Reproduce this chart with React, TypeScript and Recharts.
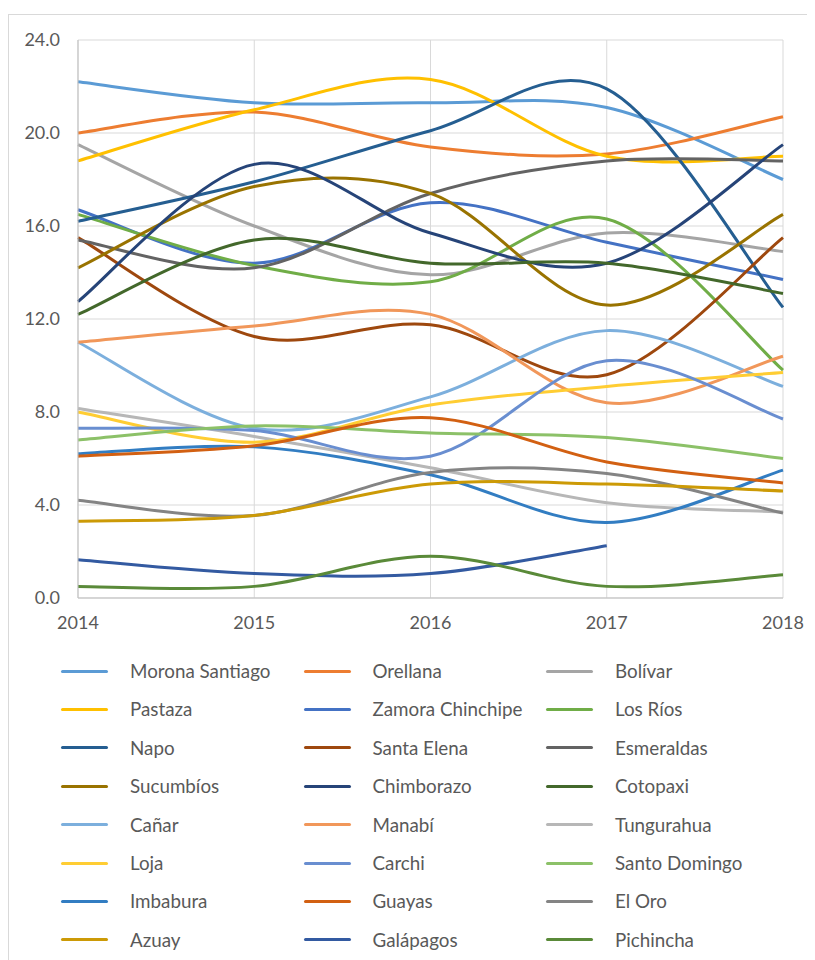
import { CartesianGrid, Line, LineChart, XAxis, YAxis } from "recharts"

// años y series (tasa por provincia)
const years = ["2014", "2015", "2016", "2017", "2018"]
const yTicks = [0, 4, 8, 12, 16, 20, 24]

const moronaSantiago = [22.2, 21.3, 21.3, 21.1, 18.0]
const orellana = [20.0, 20.9, 19.4, 19.1, 20.7]
const bolivar = [19.5, 16.0, 13.9, 15.7, 14.9]
const pastaza = [18.8, 21.0, 22.3, 19.0, 19.0]
const zamoraChinchipe = [16.7, 14.4, 17.0, 15.3, 13.7]
const losRios = [16.5, 14.3, 13.6, 16.3, 9.8]
const napo = [16.2, 17.9, 20.1, 21.9, 12.5]
const santaElena = [15.5, 11.25, 11.75, 9.6, 15.5]
const esmeraldas = [15.4, 14.2, 17.4, 18.8, 18.8]
const sucumbios = [14.2, 17.7, 17.4, 12.6, 16.5]
const chimborazo = [12.75, 18.65, 15.7, 14.4, 19.5]
const cotopaxi = [12.2, 15.4, 14.4, 14.4, 13.1]
const canar = [11.0, 7.3, 8.65, 11.5, 9.1]
const manabi = [11.0, 11.7, 12.2, 8.4, 10.4]
const tungurahua = [8.15, 6.95, 5.6, 4.1, 3.7]
const loja = [8.0, 6.7, 8.3, 9.1, 9.7]
const carchi = [7.3, 7.2, 6.1, 10.2, 7.7]
const santoDomingo = [6.8, 7.4, 7.1, 6.9, 6.0]
const imbabura = [6.2, 6.5, 5.3, 3.25, 5.5]
const guayas = [6.1, 6.55, 7.75, 5.85, 4.95]
const elOro = [4.2, 3.55, 5.4, 5.35, 3.65]
const azuay = [3.3, 3.55, 4.9, 4.9, 4.6]
const galapagos = [1.65, 1.05, 1.05, 2.25, null]
const pichincha = [0.5, 0.5, 1.8, 0.5, 1.0]

const series = [
  { key: "Morona Santiago", values: moronaSantiago, color: "#5B9BD5" },
  { key: "Orellana", values: orellana, color: "#ED7D31" },
  { key: "Bolívar", values: bolivar, color: "#A5A5A5" },
  { key: "Pastaza", values: pastaza, color: "#FFC000" },
  { key: "Zamora Chinchipe", values: zamoraChinchipe, color: "#4472C4" },
  { key: "Los Ríos", values: losRios, color: "#70AD47" },
  { key: "Napo", values: napo, color: "#255E91" },
  { key: "Santa Elena", values: santaElena, color: "#9E480E" },
  { key: "Esmeraldas", values: esmeraldas, color: "#636363" },
  { key: "Sucumbíos", values: sucumbios, color: "#997300" },
  { key: "Chimborazo", values: chimborazo, color: "#264478" },
  { key: "Cotopaxi", values: cotopaxi, color: "#43682B" },
  { key: "Cañar", values: canar, color: "#7CAFDD" },
  { key: "Manabí", values: manabi, color: "#F1975A" },
  { key: "Tungurahua", values: tungurahua, color: "#B7B7B7" },
  { key: "Loja", values: loja, color: "#FFCD33" },
  { key: "Carchi", values: carchi, color: "#698ED0" },
  { key: "Santo Domingo", values: santoDomingo, color: "#8CC168" },
  { key: "Imbabura", values: imbabura, color: "#327DC2" },
  { key: "Guayas", values: guayas, color: "#D26012" },
  { key: "El Oro", values: elOro, color: "#848484" },
  { key: "Azuay", values: azuay, color: "#CC9A06" },
  { key: "Galápagos", values: galapagos, color: "#335AA1" },
  { key: "Pichincha", values: pichincha, color: "#5A8A39" },
]

const data = years.map((year, i) => {
  const row: Record<string, string | number | null> = { year }
  series.forEach((s) => {
    row[s.key] = s.values[i]
  })
  return row
})

// curva suavizada tipo Excel (Catmull-Rom)
const excelSmooth = (context: any) => {
  let pts: number[][] = []
  return {
    areaStart() {},
    areaEnd() {},
    lineStart() {
      pts = []
    },
    point(x: number, y: number) {
      pts.push([+x, +y])
    },
    lineEnd() {
      if (!pts.length) return
      context.moveTo(pts[0][0], pts[0][1])
      for (let i = 0; i < pts.length - 1; i++) {
        const p0 = pts[i - 1] ?? pts[i]
        const p1 = pts[i]
        const p2 = pts[i + 1]
        const p3 = pts[i + 2] ?? pts[i + 1]
        context.bezierCurveTo(
          p1[0] + (p2[0] - p0[0]) / 6,
          p1[1] + (p2[1] - p0[1]) / 6,
          p2[0] - (p3[0] - p1[0]) / 6,
          p2[1] - (p3[1] - p1[1]) / 6,
          p2[0],
          p2[1]
        )
      }
    },
  }
}

const font = "Lato, 'Open Sans', sans-serif"
const tickStyle = { fill: "#595959", fontSize: 18, fontFamily: font }

export default function App() {
  return (
    <div style={{ position: "relative", width: 807, height: 952 }}>
      <div
        style={{
          position: "absolute",
          left: 0,
          top: 6,
          width: 820,
          height: 960,
          borderLeft: "1px solid #D9D9D9",
          borderTop: "1px solid #D9D9D9",
        }}
      />
      <div style={{ position: "absolute", left: 1, top: 7 }}>
        <LineChart width={806} height={640} data={data} margin={{ top: 25, right: 32, bottom: 17, left: 0 }}>
          <CartesianGrid stroke="#D9D9D9" />
          <XAxis
            dataKey="year"
            tick={tickStyle}
            tickLine={false}
            tickMargin={12}
            height={40}
            stroke="#BFBFBF"
            interval={0}
          />
          <YAxis
            domain={[0, 24]}
            ticks={yTicks}
            tick={tickStyle}
            tickLine={false}
            tickMargin={12}
            width={69}
            stroke="#BFBFBF"
            tickFormatter={(v) => Number(v).toFixed(1)}
          />
          {series.map((s) => (
            <Line
              key={s.key}
              dataKey={s.key}
              stroke={s.color}
              strokeWidth={3}
              type={excelSmooth as any}
              dot={false}
              activeDot={false}
              isAnimationActive={false}
            />
          ))}
        </LineChart>
      </div>
      {series.map((s, i) => {
        const col = i % 3
        const row = Math.floor(i / 3)
        const top = 663 + row * 38.4
        const left = 53 + col * 242.5
        return (
          <div key={s.key}>
            <div
              style={{
                position: "absolute",
                left,
                top: top - 1.5,
                width: 47,
                height: 3,
                borderRadius: 1.5,
                background: s.color,
              }}
            />
            <div
              style={{
                position: "absolute",
                left: left + 69,
                top: top - 12,
                height: 24,
                lineHeight: "24px",
                fontSize: 18.8,
                fontFamily: font,
                color: "#595959",
                whiteSpace: "nowrap",
              }}
            >
              {s.key}
            </div>
          </div>
        )
      })}
    </div>
  )
}
